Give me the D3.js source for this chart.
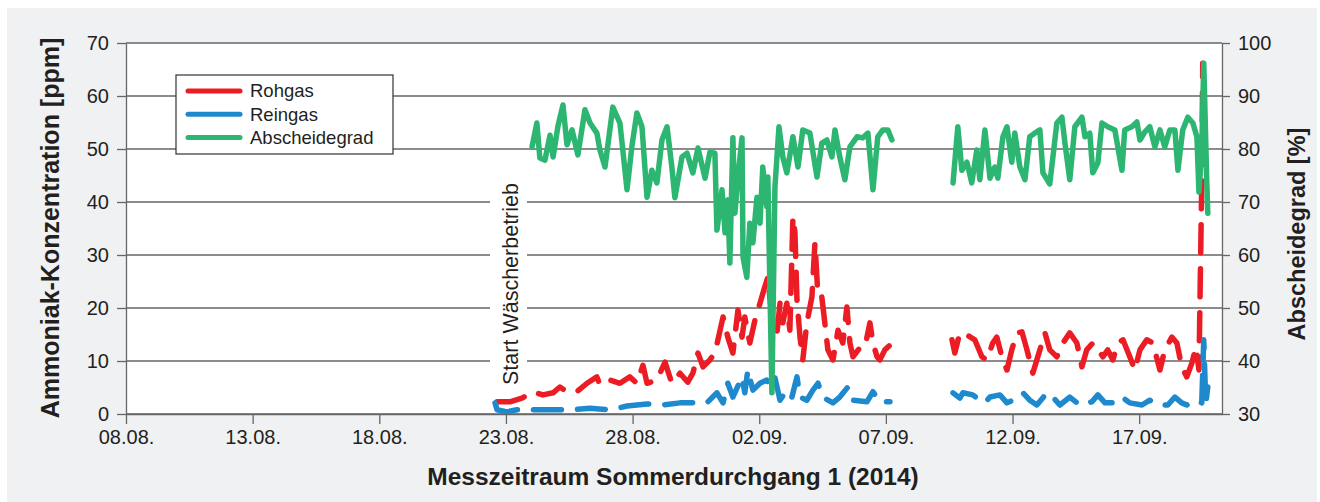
<!DOCTYPE html>
<html lang="de">
<head>
<meta charset="utf-8">
<script src="https://cdn.jsdelivr.net/npm/d3@7/dist/d3.min.js"></script>
<style>
  body { margin: 0; background: #fff; }
  text { font-family: "Liberation Sans", Arial, Helvetica, sans-serif; fill: #231f20; }
  .axis path, .axis line { stroke: #666; stroke-width: 1.3; }
  .axis text { font-size: 20px; }
  .grid line { stroke: #666; stroke-width: 1.3; }
  .title { font-weight: bold; }
</style>
</head>
<body>
<div id="chart"></div>
<script>
// time = days since 08.08.2014 00:00, value
var rohgas = [
  [14.65,2.3],[15.16,2.3],[15.63,3.0],[16.07,4.2],[16.46,3.6],[16.86,4.0],[17.13,5.1],[17.41,4.2],[17.80,4.2],[18.20,5.8],
  [18.59,7.0],[18.71,5.5],[19.11,6.4],[19.50,5.8],[19.89,7.0],[20.17,5.8],[20.41,9.2],[20.57,5.8],[20.96,6.4],[21.28,9.8],
  [21.55,5.8],[21.87,7.7],[22.18,6.0],[22.38,7.7],[22.58,11.5],[22.78,8.9],[23.05,10.2],[23.25,11.5],[23.37,14.0],[23.57,18.3],
  [23.76,14.5],[23.96,11.5],[24.16,19.6],[24.32,14.5],[24.43,18.3],[24.63,13.4],[24.83,17.7],[25.03,20.9],[25.22,24.0],[25.34,25.8],
  [25.50,18.3],[25.70,15.3],[25.82,20.9],[25.93,17.2],[26.09,20.9],[26.21,15.8],[26.33,37.2],[26.41,34.2],[26.49,21.5],[26.61,14.5],
  [26.72,10.2],[26.88,17.2],[27.08,22.1],[27.20,32.3],[27.32,22.1],[27.47,22.1],[27.59,17.2],[27.71,12.1],[27.91,10.2],[28.11,15.8],
  [28.30,13.4],[28.46,20.2],[28.58,13.4],[28.70,10.8],[28.97,12.5],[29.17,12.6],[29.37,17.2],[29.49,13.4],[29.65,10.8],[29.76,10.2],
  [29.96,12.1],[30.16,13.0],
  [31.40,null],
  [32.61,14.0],[32.72,11.5],[32.92,15.3],[33.20,14.9],[33.51,14.0],[33.79,10.8],[33.99,10.2],[34.22,13.4],[34.38,14.5],[34.58,10.8],
  [34.78,8.3],[34.97,12.1],[35.17,15.3],[35.37,15.5],[35.57,12.1],[35.80,7.7],[36.08,12.1],[36.28,15.3],[36.47,12.1],[36.75,10.8],
  [36.99,13.4],[37.26,15.3],[37.54,13.4],[37.74,8.9],[37.93,12.1],[38.17,13.4],[38.37,12.1],[38.57,10.8],[38.76,12.1],[38.96,10.2],
  [39.16,13.4],[39.36,14.0],[39.63,10.8],[39.83,8.3],[40.03,12.1],[40.30,14.0],[40.54,13.4],[40.82,8.3],[41.01,12.1],[41.29,14.5],
  [41.49,13.4],[41.68,8.9],[41.88,7.0],[42.08,9.6],[42.24,12.6],[42.36,8.3],[42.47,43.6],[42.51,66.2]
];

var reingas = [
  [14.57,2.1],[14.65,0.8],[15.04,0.4],[15.43,0.8],[16.07,0.8],[17.01,0.8],[17.65,0.8],[18.32,1.1],[19.11,0.8],[19.78,1.5],
  [20.57,1.9],[21.20,1.7],[21.87,2.1],[22.54,2.1],[22.93,2.1],[23.33,4.0],[23.57,2.1],[23.76,5.8],[23.96,3.2],[24.32,7.0],
  [24.43,4.0],[24.55,8.3],[24.75,4.5],[25.03,5.8],[25.30,6.4],[25.42,5.1],[25.62,6.8],[25.82,2.6],[26.09,4.5],[26.29,3.2],
  [26.49,7.0],[26.61,3.2],[26.88,2.6],[27.12,4.5],[27.32,5.8],[27.51,3.2],[27.91,2.1],[28.18,3.2],[28.50,5.1],[28.70,2.6],
  [29.25,2.3],[29.49,4.2],[29.76,2.3],[30.16,2.3],
  [31.40,null],
  [32.65,4.0],[32.92,3.0],[33.04,4.0],[33.43,3.6],[33.71,2.6],[33.91,2.1],[34.11,3.2],[34.50,3.6],[34.78,2.1],[35.01,2.6],
  [35.41,4.0],[35.68,2.6],[35.96,1.7],[36.36,4.0],[36.59,3.2],[36.87,1.7],[37.26,3.2],[37.66,1.7],[38.13,2.3],[38.37,3.6],
  [38.65,2.1],[39.04,2.1],[39.32,3.2],[39.63,2.1],[40.11,1.7],[40.42,2.6],[40.74,1.7],[41.13,1.7],[41.41,3.2],[41.68,2.1],
  [41.88,1.7],[42.28,2.6],[42.47,2.1],[42.55,14.0],[42.63,2.0],[42.71,5.1]
];

var abscheidegrad = [
  [16.03,80.4],[16.22,84.9],[16.34,78.3],[16.54,77.9],[16.74,82.6],[16.86,78.5],[17.05,84.2],[17.25,88.3],[17.41,80.8],[17.61,83.6],
  [17.84,78.9],[18.12,87.4],[18.32,84.9],[18.59,83.0],[18.71,79.8],[18.91,76.6],[19.22,87.9],[19.50,84.9],[19.78,72.3],[19.97,80.4],
  [20.17,86.8],[20.37,84.2],[20.57,70.9],[20.76,76.0],[20.96,73.6],[21.16,81.7],[21.36,84.2],[21.55,76.6],[21.67,70.8],[21.95,78.5],
  [22.15,79.2],[22.38,75.5],[22.58,80.2],[22.86,74.5],[23.05,79.4],[23.25,79.2],[23.33,64.7],[23.53,72.3],[23.65,64.2],[23.76,70.4],
  [23.84,58.5],[23.96,82.1],[24.04,67.9],[24.16,74.7],[24.32,82.1],[24.36,59.6],[24.51,55.8],[24.63,66.0],[24.75,62.3],[24.91,70.9],
  [25.03,66.0],[25.14,76.6],[25.30,69.1],[25.34,74.7],[25.50,34.0],[25.62,72.8],[25.78,84.2],[25.93,78.5],[26.09,75.5],[26.33,82.3],
  [26.53,76.6],[26.72,83.6],[27.00,83.0],[27.28,74.7],[27.47,81.1],[27.67,81.7],[27.87,78.5],[27.99,83.6],[28.18,78.5],[28.38,74.2],
  [28.58,80.4],[28.86,82.3],[29.09,82.1],[29.29,83.0],[29.49,72.3],[29.68,82.3],[29.88,83.6],[30.08,83.6],[30.24,81.7],
  [31.40,null],
  [32.65,73.6],[32.84,84.2],[33.00,76.0],[33.20,77.5],[33.39,73.6],[33.59,79.8],[33.71,74.2],[33.91,83.6],[34.11,74.5],[34.30,76.6],
  [34.42,74.5],[34.62,82.3],[34.78,84.2],[34.97,77.5],[35.09,83.0],[35.29,76.6],[35.49,74.2],[35.68,82.3],[35.88,83.0],[36.08,83.6],
  [36.20,75.5],[36.47,73.4],[36.75,84.9],[36.95,86.0],[37.07,81.1],[37.26,74.2],[37.46,84.2],[37.74,86.0],[37.86,82.3],[38.05,83.0],
  [38.17,75.5],[38.37,77.4],[38.53,84.9],[38.76,84.2],[39.04,83.6],[39.32,76.0],[39.43,83.6],[39.71,84.2],[39.91,85.1],[40.03,81.7],
  [40.22,83.2],[40.42,84.2],[40.62,80.4],[40.82,83.6],[41.01,80.4],[41.21,83.6],[41.41,83.6],[41.53,76.0],[41.72,83.6],[41.92,86.0],
  [42.12,84.9],[42.28,82.3],[42.36,71.9],[42.47,79.8],[42.55,96.2],[42.67,73.6],[42.71,67.9]
];

var xTickLabels = ["08.08.", "13.08.", "18.08.", "23.08.", "28.08.", "02.09.", "07.09.", "12.09.", "17.09."];
var yLeftTicks = [0, 10, 20, 30, 40, 50, 60, 70];
var yRightTicks = [30, 40, 50, 60, 70, 80, 90, 100];

var seriesNames = ["Rohgas", "Reingas", "Abscheidegrad"];
var seriesColors = ["#ec1c24", "#1e8acd", "#2db572"];

// plot box
var margin = {top: 43, right: 98, bottom: 88, left: 126},
    W = 1320, H = 502,
    width = W - margin.left - margin.right,
    height = H - margin.top - margin.bottom;

var start = Date.UTC(2014, 7, 8);
function toDate(d) { return new Date(start + d * 864e5); }
function parseTick(s) { return new Date(Date.UTC(2014, +s.slice(3, 5) - 1, +s.slice(0, 2))); }

var svg = d3.select("#chart").append("svg")
    .attr("width", W).attr("height", H);

// grey panel
svg.append("rect")
    .attr("x", 7).attr("y", 8).attr("width", 1310).attr("height", 494)
    .attr("fill", "#f0f1f3");

var g = svg.append("g")
    .attr("transform", "translate(" + margin.left + "," + margin.top + ")");

g.append("rect").attr("width", width).attr("height", height).attr("fill", "#fff");

var x = d3.scaleUtc().domain([toDate(0), toDate(43.27)]).range([0, width]);
var yL = d3.scaleLinear().domain([0, 70]).range([height, 0]);
var yR = d3.scaleLinear().domain([30, 100]).range([height, 0]);

// horizontal grid
g.append("g").attr("class", "grid")
  .selectAll("line").data(yLeftTicks).enter().append("line")
    .attr("x1", 0).attr("x2", width)
    .attr("y1", function(d) { return yL(d); })
    .attr("y2", function(d) { return yL(d); });

// axes
g.append("g").attr("class", "axis")
    .attr("transform", "translate(0," + height + ")")
    .call(d3.axisBottom(x)
        .tickValues(xTickLabels.map(parseTick))
        .tickFormat(d3.utcFormat("%d.%m."))
        .tickSize(10).tickSizeOuter(0).tickPadding(6));

g.append("g").attr("class", "axis")
    .call(d3.axisLeft(yL).tickValues(yLeftTicks).tickSize(9).tickSizeOuter(0).tickPadding(8));

g.append("g").attr("class", "axis")
    .attr("transform", "translate(" + width + ",0)")
    .call(d3.axisRight(yR).tickValues(yRightTicks).tickSize(8).tickSizeOuter(0).tickPadding(8));

g.selectAll(".axis text").attr("fill", "#231f20");

// annotation: start of scrubber operation
g.append("rect")
    .attr("x", 490 - margin.left).attr("y", 170 - margin.top)
    .attr("width", 37).attr("height", 225)
    .attr("fill", "#fff");
g.append("text")
    .attr("transform", "translate(" + (518 - margin.left) + "," + (284 - margin.top) + ") rotate(-90)")
    .attr("text-anchor", "middle")
    .style("font-size", "21.5px")
    .text("Start Wäscherbetrieb");

// lines
g.append("clipPath").attr("id", "clip")
  .append("rect").attr("x", -5).attr("y", 0).attr("width", width + 5).attr("height", height);

function lineFor(y) {
    return d3.line()
        .defined(function(d) { return d[1] !== null; })
        .x(function(d) { return x(toDate(d[0])); })
        .y(function(d) { return y(d[1]); });
}

var plot = g.append("g").attr("clip-path", "url(#clip)");

plot.append("path").datum(rohgas)
    .attr("d", lineFor(yL))
    .attr("fill", "none").attr("stroke", seriesColors[0])
    .attr("stroke-width", 5.5).attr("stroke-linecap", "round").attr("stroke-linejoin", "round")
    .attr("stroke-dasharray", "28 16");

plot.append("path").datum(reingas)
    .attr("d", lineFor(yL))
    .attr("fill", "none").attr("stroke", seriesColors[1])
    .attr("stroke-width", 5.5).attr("stroke-linecap", "round").attr("stroke-linejoin", "round")
    .attr("stroke-dasharray", "28 16");

plot.append("path").datum(abscheidegrad)
    .attr("d", lineFor(yR))
    .attr("fill", "none").attr("stroke", seriesColors[2])
    .attr("stroke-width", 5.5).attr("stroke-linecap", "round").attr("stroke-linejoin", "round");

// legend
var legend = svg.append("g").attr("transform", "translate(176,75)");
legend.append("rect")
    .attr("width", 217).attr("height", 79)
    .attr("fill", "#fff").attr("stroke", "#333").attr("stroke-width", 1.2);
var item = legend.selectAll(".item").data(seriesNames).enter().append("g")
    .attr("transform", function(d, i) { return "translate(0," + (16 + i * 23.3) + ")"; });
item.append("line")
    .attr("x1", 12).attr("x2", 64)
    .attr("stroke", function(d, i) { return seriesColors[i]; })
    .attr("stroke-width", 5).attr("stroke-linecap", "round");
item.append("text")
    .attr("x", 74).attr("dy", "0.35em")
    .style("font-size", "18.5px")
    .text(function(d) { return d; });

// axis titles
svg.append("text").attr("class", "title")
    .attr("x", 673).attr("y", 485)
    .attr("text-anchor", "middle")
    .style("font-size", "24.5px")
    .text("Messzeitraum Sommerdurchgang 1 (2014)");

svg.append("text").attr("class", "title")
    .attr("transform", "translate(59,228) rotate(-90)")
    .attr("text-anchor", "middle")
    .style("font-size", "25px")
    .text("Ammoniak-Konzentration [ppm]");

svg.append("text").attr("class", "title")
    .attr("transform", "translate(1305,234) rotate(-90)")
    .attr("text-anchor", "middle")
    .style("font-size", "23.5px")
    .text("Abscheidegrad [%]");
</script>
</body>
</html>
